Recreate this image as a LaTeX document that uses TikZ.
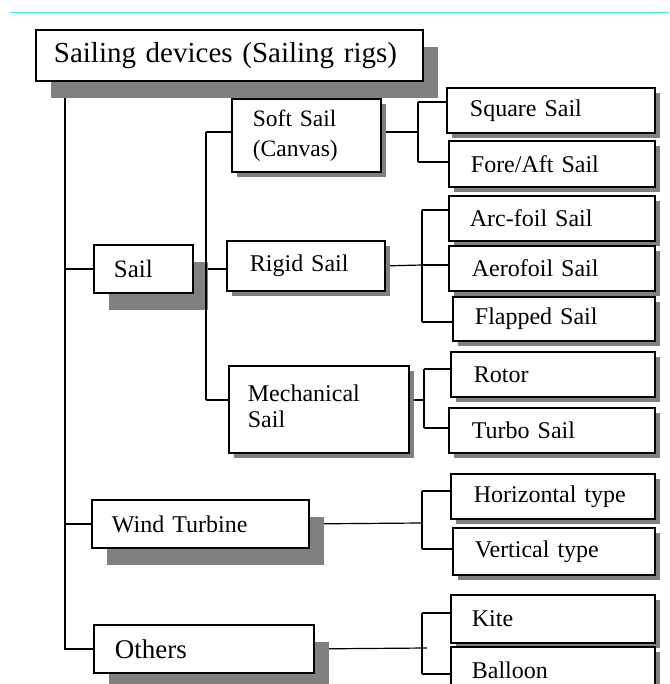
\documentclass[tikz,border=0pt]{standalone}
\usepackage{fontspec}
\setmainfont{Liberation Serif}
\usetikzlibrary{shadows,backgrounds}
\definecolor{topline}{RGB}{70,225,230}
\definecolor{shade}{RGB}{128,128,128}
\newcommand{\fsz}[2]{\fontsize{#1}{#2}\selectfont}
\tikzset{
  box/.style={draw=black, line width=1.8pt, fill=white, anchor=north west,
              inner ysep=0pt, align=left, font=\fsz{24}{30}},
  bigshadow/.style={drop shadow={shadow xshift=15pt, shadow yshift=-17pt, fill=shade, opacity=1}},
  smallshadow/.style={drop shadow={shadow xshift=5pt, shadow yshift=-5pt, fill=shade, opacity=1}},
  link/.style={line width=1.5pt},
  thinlink/.style={line width=1.2pt},
  trunk/.style={line width=2.2pt}
}
\begin{document}
\begin{tikzpicture}[x=1pt,y=-1pt]
\useasboundingbox (0,0) rectangle (669,684);

% boxes
\node[box, bigshadow, text width=351pt, inner xsep=18pt, minimum height=51pt, font=\fsz{29}{34}] (root) at (35,29) {Sailing devices (Sailing rigs)};
\node[box, bigshadow, text width=59pt, inner xsep=20pt, minimum height=48pt, font=\fsz{25}{30}] (sail) at (93,244) {Sail};
\node[box, smallshadow, text width=107pt, inner xsep=21pt, minimum height=73pt, font=\fsz{23.5}{30}] (soft) at (231,98) {Soft Sail\\(Canvas)};
\node[box, smallshadow, text width=112pt, inner xsep=23pt, minimum height=50pt] (rigid) at (226,240) {Rigid Sail};
\node[box, smallshadow, text width=142pt, inner xsep=19pt, minimum height=87pt, font=\fsz{24}{26}] (mech) at (228,365) {Mechanical\\Sail\vspace*{6pt}};
\node[box, bigshadow, text width=177pt, inner xsep=20pt, minimum height=48pt] (wind) at (91,499) {Wind Turbine};
\node[box, bigshadow, text width=178pt, inner xsep=21pt, minimum height=48pt, font=\fsz{27}{30}] (others) at (93,624) {Others};

\node[box, smallshadow, text width=162pt, inner xsep=23pt, minimum height=45pt] (square) at (446,87) {Square Sail};
\node[box, smallshadow, text width=162pt, inner xsep=22pt, minimum height=46pt] (fore) at (448,140) {Fore/Aft Sail};
\node[box, smallshadow, text width=164pt, inner xsep=21pt, minimum height=45pt] (arc) at (448,195) {Arc-foil Sail};
\node[box, smallshadow, text width=160pt, inner xsep=23pt, minimum height=45pt] (aero) at (448,245) {Aerofoil Sail};
\node[box, smallshadow, text width=158pt, inner xsep=22pt, minimum height=44pt] (flap) at (452,296) {Flapped Sail};
\node[box, smallshadow, text width=158pt, inner xsep=23pt, minimum height=45pt] (rotor) at (450,351) {Rotor};
\node[box, smallshadow, text width=160pt, inner xsep=23pt, minimum height=45pt] (turbo) at (448,407) {Turbo Sail};
\node[box, smallshadow, text width=158pt, inner xsep=23pt, minimum height=45pt] (horiz) at (450,473) {Horizontal type};
\node[box, smallshadow, text width=158pt, inner xsep=22pt, minimum height=47pt] (vert) at (452,527) {Vertical type};
\node[box, smallshadow, text width=162pt, inner xsep=21pt, minimum height=48pt] (kite) at (450,594) {Kite};
\node[box, smallshadow, text width=162pt, inner xsep=21pt, minimum height=46pt] (balloon) at (450,646) {Balloon};

% junction points
\coordinate (tk1) at (65,80);
\coordinate (tk2) at (65,650);
\coordinate (v2top) at (206,132);
\coordinate (v2bot) at (206,400);
\coordinate (j1) at (418,132);
\coordinate (j1a) at (418,102);
\coordinate (j1b) at (418,162);
\coordinate (j2) at (422,265);
\coordinate (j2a) at (422,210);
\coordinate (j2b) at (422,322);
\coordinate (j3) at (424,400);
\coordinate (j3a) at (424,369);
\coordinate (j3b) at (424,428);
\coordinate (j4) at (422,523);
\coordinate (j4a) at (422,491);
\coordinate (j4b) at (422,549);
\coordinate (j5) at (427,648);
\coordinate (j5a) at (422,613);
\coordinate (j5b) at (422,674);

\begin{pgfonlayer}{background}
  \fill[white] (0,0) rectangle (669,684);
  \draw[topline, line width=1pt] (10,13) -- (669,13);
  % trunk
  \draw[trunk] (tk1) -- (tk2);
  \draw[link] (sail.west -| tk1) -- (sail.west);
  \draw[link] (wind.west -| tk1) -- (wind.west);
  \draw[link] (others.west -| tk1) -- (others.west);
  % sail level
  \draw[link] (v2top) -- (v2top -| soft.west);
  \draw[link] (sail.east) -- (sail.east -| rigid.west);
  \draw[link] (v2bot) -- (v2bot -| mech.west);
  % soft sail
  \draw[link] (j1 -| soft.east) -- (j1);
  \draw[link] (j1a) -- (j1b);
  \draw[link] (j1a) -- (j1a -| square.west);
  \draw[link] (j1b) -- (j1b -| fore.west);
  % rigid sail
  \draw[thinlink] (rigid.east) -- (j2);
  \draw[thinlink] (j2a) -- (j2b);
  \draw[thinlink] (j2a) -- (j2a -| arc.west);
  \draw[link] (j2) -- (j2 -| aero.west);
  \draw[thinlink] (j2b) -- (j2b -| flap.west);
  % mechanical sail
  \draw[link] (j3 -| mech.east) -- (j3);
  \draw[link] (j3a) -- (j3b);
  \draw[link] (j3a) -- (j3a -| rotor.west);
  \draw[link] (j3b) -- (j3b -| turbo.west);
  % wind turbine
  \draw[thinlink] (wind.east) -- (j4);
  \draw[thinlink] (j4a) -- (j4b);
  \draw[thinlink] (j4a) -- (j4a -| horiz.west);
  \draw[thinlink] (j4b) -- (j4b -| vert.west);
  % others
  \draw[thinlink] (others.east) -- (j5);
  \draw[link] (j5a) -- (j5b);
  \draw[link] (j5a) -- (j5a -| kite.west);
  \draw[link] (j5b) -- (j5b -| balloon.west);
\end{pgfonlayer}

% second vertical drawn over the Sail shadow
\draw[link] (v2top) -- (v2bot);
\end{tikzpicture}
\end{document}
